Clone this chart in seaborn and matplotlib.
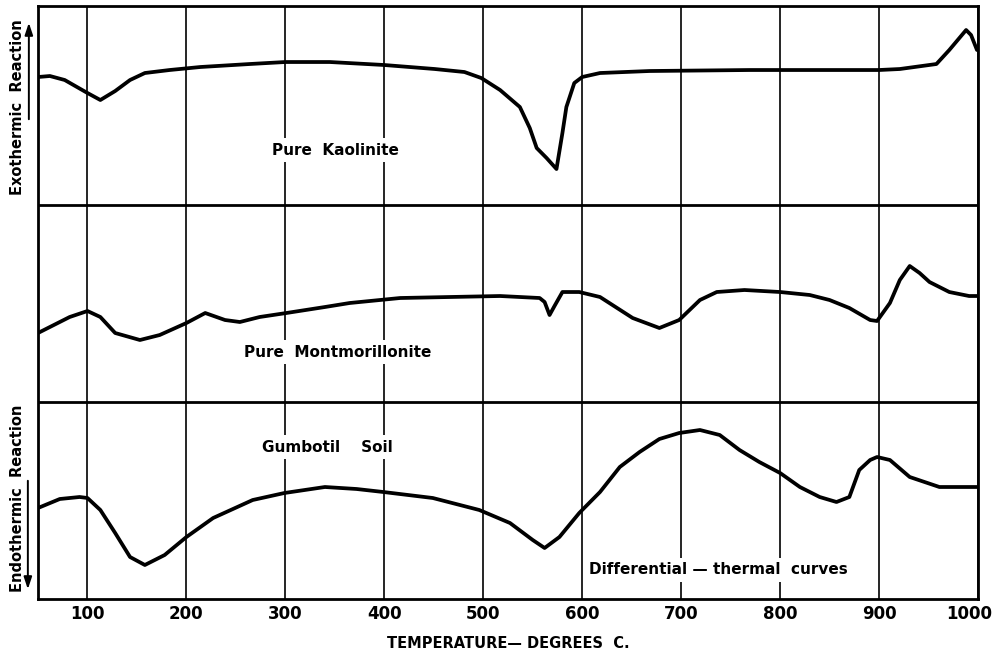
import pandas as pd
import seaborn as sns
import matplotlib.pyplot as plt
from matplotlib.patches import FancyArrowPatch
from matplotlib.transforms import ScaledTranslation

# temperatures (deg C) and deflections (arbitrary units)
kaol_t = [50, 62, 77, 100, 113, 128, 143, 158, 183, 214, 264, 300, 345, 400, 451, 481, 498,
          517, 537, 547, 554, 564, 574, 580, 584, 592, 600, 618, 668, 769, 900, 921, 958,
          971, 988, 993, 999]
kaol_y = [523, 524, 520, 507, 500, 509, 520, 527, 530, 533, 536, 538, 538, 535, 531, 528, 522,
          510, 493, 472, 452, 442, 431, 467, 493, 517, 523, 527, 529, 530, 530, 531, 536,
          550, 570, 565, 550]

mont_t = [50, 62, 82, 100, 113, 128, 153, 173, 200, 219, 239, 254, 274, 301, 340, 365, 416,
          466, 517, 557, 562, 567, 572, 580, 597, 618, 651, 678, 698, 719, 736, 764, 800,
          830, 850, 870, 891, 898, 911, 921, 931, 941, 951, 971, 991, 999]
mont_y = [267, 273, 283, 289, 283, 267, 260, 265, 277, 287, 280, 278, 283, 287, 293, 297, 302,
          303, 304, 302, 298, 285, 294, 308, 308, 303, 282, 272, 280, 300, 308, 310, 308,
          305, 300, 292, 280, 279, 297, 320, 334, 327, 318, 308, 304, 304]

gumb_t = [50, 72, 92, 100, 113, 128, 143, 158, 178, 200, 227, 267, 299, 340, 372, 399, 449,
          496, 527, 550, 562, 577, 597, 618, 638, 658, 678, 698, 719, 739, 759, 779, 800,
          820, 840, 857, 870, 880, 891, 898, 911, 931, 961, 999]
gumb_y = [92, 101, 103, 102, 90, 67, 43, 35, 45, 63, 82, 100, 107, 113, 111, 108, 102,
          90, 77, 60, 52, 63, 87, 108, 133, 148, 161, 167, 170, 165, 150, 138, 127,
          113, 103, 98, 103, 130, 140, 143, 140, 123, 113, 113]

ticks = [100, 200, 300, 400, 500, 600, 700, 800, 900, 1000]
panel_lines = [198, 395]

curves = pd.concat([
    pd.DataFrame({"temp": kaol_t, "dta": kaol_y, "sample": "Pure Kaolinite"}),
    pd.DataFrame({"temp": mont_t, "dta": mont_y, "sample": "Pure Montmorillonite"}),
    pd.DataFrame({"temp": gumb_t, "dta": gumb_y, "sample": "Gumbotil Soil"}),
])

sns.set_style("white")
plt.rcParams["font.family"] = ["DejaVu Sans"]
plt.rcParams["font.weight"] = "bold"
plt.rcParams["text.color"] = "black"
plt.rcParams["axes.labelcolor"] = "black"
plt.rcParams["xtick.color"] = "black"

fig = plt.figure(figsize=(9.95, 6.54), dpi=100)
ax = fig.add_axes([0.0382, 0.0841, 0.9447, 0.9067])

for t in ticks:
    ax.axvline(t, color="black", lw=1.2, zorder=1)
for h in panel_lines:
    ax.axhline(h, color="black", lw=2.0, zorder=1)

sns.lineplot(data=curves, x="temp", y="dta", units="sample", estimator=None,
             color="black", lw=2.7, ax=ax, zorder=3, sort=False)

ax.set_xlim(50, 1000)
ax.set_ylim(1, 594)
ax.set_xticks(ticks)
ax.set_xticklabels([str(t) for t in ticks], fontsize=12, fontweight="bold")
ax.set_yticks([])
ax.tick_params(axis="x", length=0, pad=4)
# pull the last label in so it stays on the page
last = ax.get_xticklabels()[-1]
last.set_transform(last.get_transform() + ScaledTranslation(-0.09, 0, fig.dpi_scale_trans))
ax.set_xlabel("TEMPERATURE— DEGREES  C.", fontsize=10.5, fontweight="bold", labelpad=10)
ax.set_ylabel("")
for s in ax.spines.values():
    s.set_visible(True)
    s.set_linewidth(2.0)
    s.set_color("black")

box = dict(facecolor="white", edgecolor="none", pad=3)
ax.text(351, 450, "Pure  Kaolinite", ha="center", va="center", fontsize=11,
        fontweight="bold", bbox=box, zorder=4)
ax.text(353, 248, "Pure  Montmorillonite", ha="center", va="center", fontsize=11,
        fontweight="bold", bbox=box, zorder=4)
ax.text(342, 153, "Gumbotil    Soil", ha="center", va="center", fontsize=11,
        fontweight="bold", bbox=box, zorder=4)
ax.text(738, 30, "Differential — thermal  curves", ha="center", va="center", fontsize=11,
        fontweight="bold", bbox=box, zorder=4)

fig.text(0.018, 1 - 107 / 654, "Exothermic  Reaction", rotation=90, ha="center", va="center",
         fontsize=10.5, fontweight="bold")
fig.text(0.018, 1 - 498 / 654, "Endothermic  Reaction", rotation=90, ha="center", va="center",
         fontsize=10.5, fontweight="bold")
head = "-|>,head_length=0.6,head_width=0.2"
fig.add_artist(FancyArrowPatch((0.029, 1 - 122 / 654), (0.029, 1 - 20 / 654),
                               transform=fig.transFigure, arrowstyle=head,
                               color="black", lw=1.4, mutation_scale=12))
fig.add_artist(FancyArrowPatch((0.028, 1 - 478 / 654), (0.028, 1 - 592 / 654),
                               transform=fig.transFigure, arrowstyle=head,
                               color="black", lw=1.4, mutation_scale=12))

fig.savefig("out.png", dpi=100)
